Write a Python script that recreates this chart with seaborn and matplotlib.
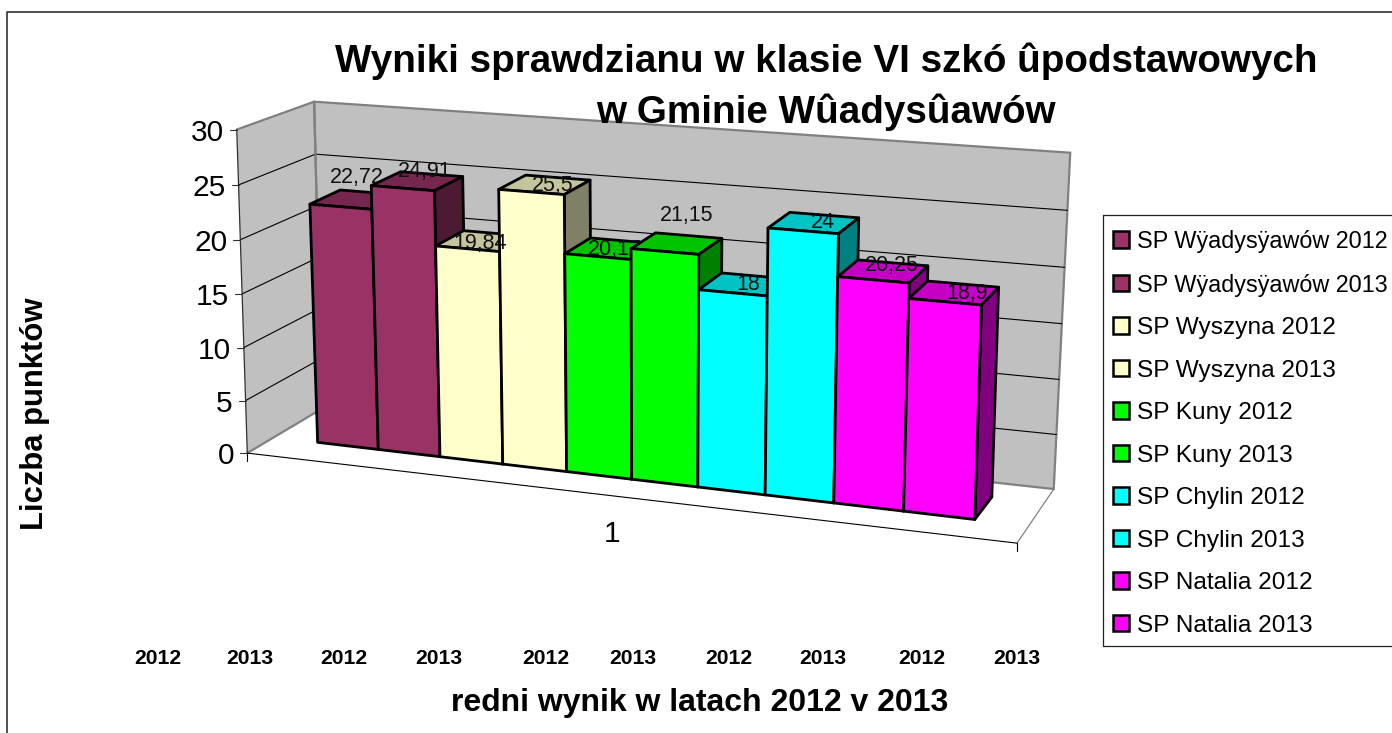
import numpy as np
import pandas as pd
import seaborn as sns
import matplotlib.pyplot as plt
import matplotlib.transforms as mtrans
from matplotlib.patches import Patch

# dane
schools = ['SP Wÿadysÿawów 2012', 'SP Wÿadysÿawów 2013', 'SP Wyszyna 2012', 'SP Wyszyna 2013',
           'SP Kuny 2012', 'SP Kuny 2013', 'SP Chylin 2012', 'SP Chylin 2013',
           'SP Natalia 2012', 'SP Natalia 2013']
values = [22.72, 24.91, 19.84, 25.5, 20.17, 21.15, 18, 24, 20.25, 18.9]
value_labels = ['22,72', '24,91', '19,84', '25,5', '20,17', '21,15', '18', '24', '20,25', '18,9']
colors = ['#993366', '#993366', '#FFFFCC', '#FFFFCC', '#00FF00', '#00FF00',
          '#00FFFF', '#00FFFF', '#FF00FF', '#FF00FF']
y_ticks = [0, 5, 10, 15, 20, 25, 30]
year_labels = ['2012', '2013'] * 5

# miejsca napisow (piksele)
label_pos = [(357, 178), (425, 172), (480, 243), (553, 185), (615, 249),
             (687, 216), (748, 285), (823, 223), (892, 266), (967, 294)]
year_x = [158, 250, 344, 439, 546, 633, 729, 823, 922, 1017]

W, H = 1392, 733

# kalibracja rzutu perspektywicznego: (x, y, z) -> piksel
wall_anchors = [(0, 0, 0, 249, 451), (0, 30, 0, 235, 130), (0, 0, 1, 320, 411), (0, 30, 1, 316, 101),
                (1, 0, 1, 1054, 487), (1, 30, 1, 1070, 153), (1, 0, 0, 1017, 545)]
bar_anchors = [(0, 0, 0, 318, 443), (1, 0, 0, 378, 450), (2, 0, 0, 440, 456), (3, 0, 0, 502, 464),
               (4, 0, 0, 567, 471), (5, 0, 0, 632, 479), (8, 0, 0, 834, 503), (9, 0, 0, 903, 511),
               (10, 0, 0, 975, 520), (10, 0, 1, 992, 497),
               (0, 22.72, 0, 310, 204), (1, 22.72, 0, 371, 209), (0, 22.72, 1, 340, 190),
               (1, 24.91, 0, 372, 186), (2, 24.91, 0, 435, 191), (2, 24.91, 1, 463, 177),
               (3, 25.5, 0, 498, 189), (4, 25.5, 0, 564, 195), (4, 25.5, 1, 590, 180),
               (6, 21.15, 0, 699, 254), (6, 21.15, 1, 722, 238),
               (7, 24, 0, 768, 228), (8, 24, 0, 839, 234), (8, 24, 1, 859, 217),
               (9, 20.25, 0, 908, 283), (9, 20.25, 1, 928, 266),
               (10, 18.9, 0, 982, 305), (10, 18.9, 1, 998, 288)]


def fit_camera(anchors):
    rows, rhs = [], []
    for X, Y, Z, u, v in anchors:
        rows.append([X, Y, Z, 1, 0, 0, 0, 0, -u * X, -u * Y, -u * Z])
        rows.append([0, 0, 0, 0, X, Y, Z, 1, -v * X, -v * Y, -v * Z])
        rhs += [u, v]
    p = np.linalg.lstsq(np.array(rows, float), np.array(rhs, float), rcond=None)[0]
    return np.append(p, 1).reshape(3, 4)


def project(cam, x, y, z):
    x, y, z = np.broadcast_arrays(x, y, z)
    pts = np.column_stack([x.ravel(), y.ravel(), z.ravel(), np.ones(x.size)]) @ cam.T
    return pts[:, :2] / pts[:, 2:]


cam_wall = fit_camera(wall_anchors)
cam_bar = fit_camera(bar_anchors)


class FrontPlane(mtrans.Transform):
    # os slupkow seaborna -> przednia sciana slupkow
    input_dims = 2
    output_dims = 2

    def transform_non_affine(self, values):
        values = np.asarray(values, float)
        return project(cam_bar, values[:, 0] + 0.5, values[:, 1], 0.0)


def shade(color, k):
    return tuple(c * k for c in plt.matplotlib.colors.to_rgb(color))


sns.set_style('white')
plt.rcParams['font.family'] = ['Liberation Sans', 'DejaVu Sans']
plt.rcParams['text.color'] = 'black'

fig = plt.figure(figsize=(W / 100, H / 100), dpi=100)
ax = fig.add_axes([0, 0, 1, 1])

# slupki
df = pd.DataFrame({'school': schools, 'value': values})
sns.barplot(data=df, x='school', y='value', hue='school', palette=colors, dodge=False,
            width=1, legend=False, edgecolor='black', linewidth=2, ax=ax, saturation=1)

front = FrontPlane() + ax.transData
for patch in ax.patches:
    i = int(round(patch.get_x() + 0.5))
    patch.set_transform(front)
    patch.set_clip_on(False)
    patch.set_zorder(3 + i + 0.5)
    patch.set_joinstyle('round')

# sciany wykresu
grey = '#808080'
ax.fill(*project(cam_wall, [0, 0, 0, 0], [0, 30, 30, 0], [0, 0, 1, 1]).T,
        fc='#C0C0C0', ec='none', zorder=1)
ax.fill(*project(cam_wall, [0, 1, 1, 0], [0, 0, 30, 30], [1, 1, 1, 1]).T,
        fc='#C0C0C0', ec=grey, lw=1.6, zorder=1)
ax.plot(*project(cam_wall, [0, 0, 0], [0, 30, 30], [1, 1, 0]).T, color=grey, lw=1.6, zorder=2)
ax.plot(*project(cam_wall, [0, 0], [0, 0], [0, 1]).T, color=grey, lw=1.6, zorder=2)
ax.plot(*project(cam_wall, [1, 1], [0, 0], [0, 1]).T, color=grey, lw=0.9, zorder=2)
ax.plot(*project(cam_wall, [0, 1], [0, 0], [0, 0]).T, color='black', lw=0.8, zorder=2)
ax.plot(*project(cam_wall, [0, 0], [0, 30], [0, 0]).T, color='#303030', lw=0.9, zorder=2)

for tick in y_ticks:
    if 0 < tick < 30:
        ax.plot(*project(cam_wall, [0, 0, 1], tick, [0, 1, 1]).T, color='black', lw=0.8, zorder=1.5)
    tx, ty = project(cam_wall, 0, tick, 0)[0]
    ax.plot([tx - 7, tx], [ty, ty], color='#303030', lw=0.8, zorder=2)
    ax.text(tx - 13, ty, str(tick), ha='right', va='center_baseline', fontsize=21.5)

# krotkie znaczniki osi x
for xt in [0, 1]:
    tx, ty = project(cam_wall, xt, 0, 0)[0]
    ax.plot([tx, tx], [ty, ty + 8], color='black', lw=0.8, zorder=2)

# gorne i boczne sciany slupkow
for i, (v, col) in enumerate(zip(values, colors)):
    ax.fill(*project(cam_bar, [i, i + 1, i + 1, i], v, [0, 0, 1, 1]).T, fc=shade(col, 0.77),
            ec='black', lw=2, joinstyle='round', zorder=3 + i)
    ax.fill(*project(cam_bar, i + 1, [0, v, v, 0], [0, 0, 1, 1]).T, fc=shade(col, 0.5),
            ec='black', lw=2, joinstyle='round', zorder=3 + i)

# etykiety wartosci
for i, (txt, pos) in enumerate(zip(value_labels, label_pos)):
    z = 7.8 if i == 4 else 50
    ax.text(pos[0], pos[1], txt, ha='center', va='center', fontsize=15.5, color='#101010', zorder=z)

for txt, xp in zip(year_labels, year_x):
    ax.text(xp, 659, txt, ha='center', va='center', fontsize=15.2, fontweight='bold')

ax.text(826, 61, 'Wyniki sprawdzianu w klasie VI szkó ûpodstawowych', ha='center', va='center',
        fontsize=27.8, fontweight='bold', zorder=60)
ax.text(826, 112, 'w Gminie Wûadysûawów', ha='center', va='center',
        fontsize=27.8, fontweight='bold', zorder=60)
ax.text(700, 703, 'redni wynik w latach 2012 v 2013', ha='center', va='center',
        fontsize=23, fontweight='bold')
ax.text(35, 414, 'Liczba punktów', ha='center', va='center', rotation=90,
        fontsize=22.3, fontweight='bold')
ax.text(612, 534, '1', ha='center', va='center', fontsize=21.5)

# ramka calego wykresu
ax.plot([7, 7, W], [H, 12, 12], color='#333333', lw=1.2, zorder=60, clip_on=False)

ax.set_xlim(0, W)
ax.set_ylim(H, 0)
ax.axis('off')

# legenda
ax.plot([W, 1103, 1103, W], [215, 215, 646, 646], color='#222222', lw=0.9, zorder=60, clip_on=False)
handles = [Patch(fc=c, ec='black', lw=1.8, label=s) for s, c in zip(schools, colors)]
leg = ax.legend(handles=handles, loc='upper left', bbox_to_anchor=(1103 / W, 1 - 220 / H),
                bbox_transform=ax.transAxes, borderaxespad=0, fontsize=17.6, frameon=False,
                handlelength=0.66, handleheight=0.66, handletextpad=0.33,
                labelspacing=0.84, borderpad=0.41)
for t in leg.get_texts()[:2]:
    t.set_fontsize(16.8)
leg.set_zorder(70)

fig.savefig('out.png', dpi=100)
